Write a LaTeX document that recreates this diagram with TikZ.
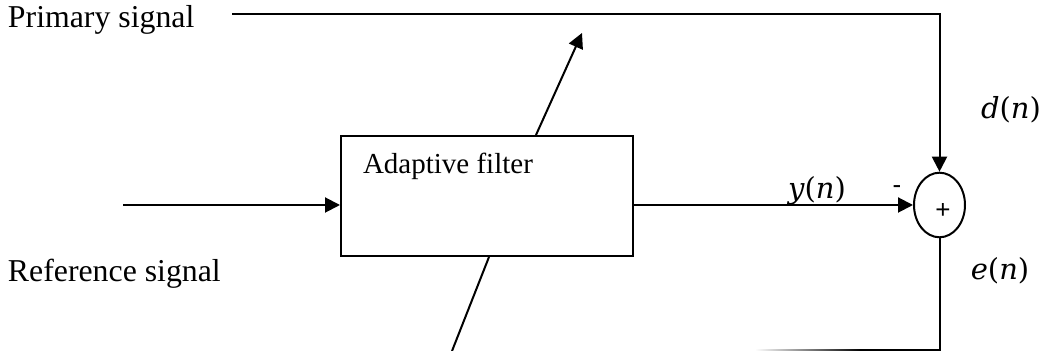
\documentclass[tikz,border=0pt]{standalone}
\usepackage{fontspec}
\setmainfont{Liberation Serif}
\newfontfamily\signfont{Liberation Sans}
\newfontfamily\varfont{DejaVu Serif}
\newcommand{\sigvar}[1]{{\itshape #1}({\itshape n})}
\usetikzlibrary{positioning,arrows.meta,shapes.geometric,calc,fadings}

\begin{document}
\begin{tikzpicture}[
  x=0.5pt, y=-0.5pt,
  line width=1pt,
  lbl/.style={font=\fontsize{15.9}{19}\selectfont, inner sep=0pt},
  var/.style={font=\varfont\fontsize{14.5}{17}\selectfont, inner sep=0pt},
  boxtext/.style={font=\fontsize{14.5}{17}\selectfont, inner sep=0pt},
  sgn/.style={font=\signfont\fontsize{13}{14}\selectfont, inner sep=0pt},
  box/.style={rectangle, draw, minimum width=146pt, minimum height=60pt, inner sep=0pt},
  sum/.style={ellipse, draw, minimum width=25.5pt, minimum height=32.3pt, inner sep=0pt},
  arrow/.style={-{Triangle[length=7.5pt,width=7.5pt]}}
]
  \useasboundingbox (0,0) rectangle (1045,351);

  % blocks
  \node[box] (filter) at (487,196) {};
  \node[sum] (sum) at (939.5,205) {};

  % texts
  \node[lbl, anchor=base west] (primary) at (7,28) {Primary signal};
  \node[lbl, anchor=base west] (reference) at (7,282) {Reference signal};
  \node[boxtext, anchor=base west] (filtername) at (362,174) {Adaptive filter};
  \node[var] (dn) at (1011,110) {\sigvar{d}};
  \node[var] (yn) at (817,191) {\sigvar{y}};
  \node[var] (en) at (1000,271) {\sigvar{e}};
  \node[sgn] (minus) at (897,190) {-};
  \node[sgn] (plus) at (943,211) {+};

  % free ends
  \coordinate (pstart) at (232,14);
  \coordinate (refin) at (123,205);
  \coordinate (adapt) at (582,33);
  \coordinate (errin) at (452,351);
  \coordinate (errmid) at (860,350.5);
  \coordinate (errend) at (756,350.5);

  % connectors
  \draw[arrow] (pstart) -| (sum.north);
  \draw[arrow] (refin) -- (refin -| filter.west);
  \draw[arrow] (filter.east |- sum.west) -- (sum.west);
  \draw[arrow] ($(filter.north west)+(196,0)$) -- (adapt);
  \draw ($(filter.south west)+(149,0)$) -- (errin);
  \draw (sum.south) |- (errmid);
  \draw[path fading=west] (errmid) -- (errend);
\end{tikzpicture}
\end{document}
